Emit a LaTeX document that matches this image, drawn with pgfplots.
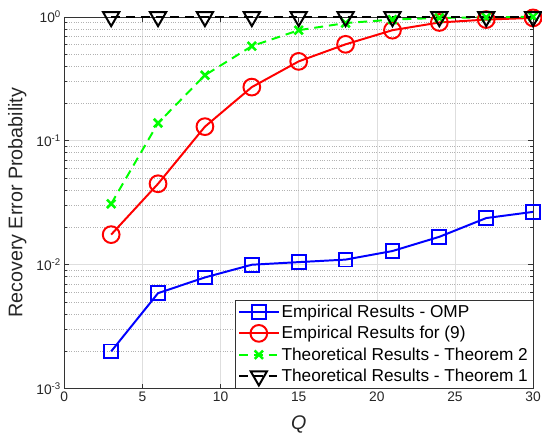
\documentclass[border=0pt]{standalone}
\usepackage{fontspec}
\setmainfont{Liberation Sans}
\usepackage{pgfplots}
\pgfplotsset{compat=1.18}
\begin{document}
\begin{tikzpicture}
\begin{semilogyaxis}[
 scale only axis, width=474bp, height=376bp,
 xmin=0, xmax=30, ymin=1e-3, ymax=1,
 xtick={0,5,...,30},
 ytick={1e-3,1e-2,1e-1,1},
 yticklabels={10\textsuperscript{-3},10\textsuperscript{-2},10\textsuperscript{-1},10\textsuperscript{0}},
 /pgf/number format/assume math mode=true,
 tick label style={font=\fontsize{14}{16}\selectfont, black!85},
 xlabel={\itshape Q}, ylabel={Recovery Error Probability},
 label style={font=\fontsize{20}{23}\selectfont, black!85},
 xlabel style={at={(axis description cs:0.5,-0.095)}, anchor=center},
 ylabel style={at={(axis description cs:-0.1,0.5)}, anchor=center},
 axis line style={black!80, line width=0.6pt}, tick style={black!80, line width=0.6pt},
 tick align=inside, major tick length=5pt, minor tick length=3pt,
 xmajorgrids, ymajorgrids, yminorgrids,
 major grid style={black!13, line width=0.6pt},
 minor grid style={black!30, dotted, line width=0.6pt},
 clip=false,
 legend style={at={(1,0)}, anchor=south east, draw=black!80, fill=white,
  font=\fontsize{17.5}{19}\selectfont, row sep=3.5pt, inner xsep=3pt, inner ysep=3pt,
  line width=0.6pt, cells={anchor=west}},
 legend cell align=left,
 legend image code/.code={
  \draw[mark repeat=2,mark phase=2] plot coordinates {(0bp,0bp) (20bp,0bp) (40bp,0bp)};},
]
\addplot[blue, line width=2pt, mark=square, mark size=7pt, mark options={solid, line width=2pt}] coordinates {
(3,0.002) (6,0.0059) (9,0.0079) (12,0.01) (15,0.0105) (18,0.011) (21,0.0129) (24,0.0168) (27,0.0238) (30,0.0267)};
\addlegendentry{Empirical Results - OMP}
\addplot[red, line width=2pt, mark=o, mark size=8.5pt, mark options={solid, line width=2pt}] coordinates {
(3,0.0175) (6,0.045) (9,0.13) (12,0.271) (15,0.437) (18,0.6) (21,0.78) (24,0.9) (27,0.95) (30,0.98)};
\addlegendentry{Empirical Results for (9)}
\addplot[green, line width=2pt, dash pattern=on 9pt off 6pt, mark=x, mark size=6pt, mark options={solid, line width=2.6pt}] coordinates {
(3,0.031) (6,0.139) (9,0.338) (12,0.58) (15,0.78) (18,0.89) (21,0.95) (24,0.98) (27,0.99) (30,1.0)};
\addlegendentry{Theoretical Results - Theorem 2}
\addplot[black, line width=2pt, dash pattern=on 9pt off 6pt, mark=triangle, mark size=9.5pt, mark options={solid, line width=2pt, rotate=180}] coordinates {
(3,1) (6,1) (9,1) (12,1) (15,1) (18,1) (21,1) (24,1) (27,1) (30,1)};
\addlegendentry{Theoretical Results - Theorem 1}
\end{semilogyaxis}
\pgfresetboundingbox
\path ([shift={(-65bp,-44bp)}]current axis.south west) rectangle ([shift={(9bp,17bp)}]current axis.north east);
\end{tikzpicture}
\end{document}
